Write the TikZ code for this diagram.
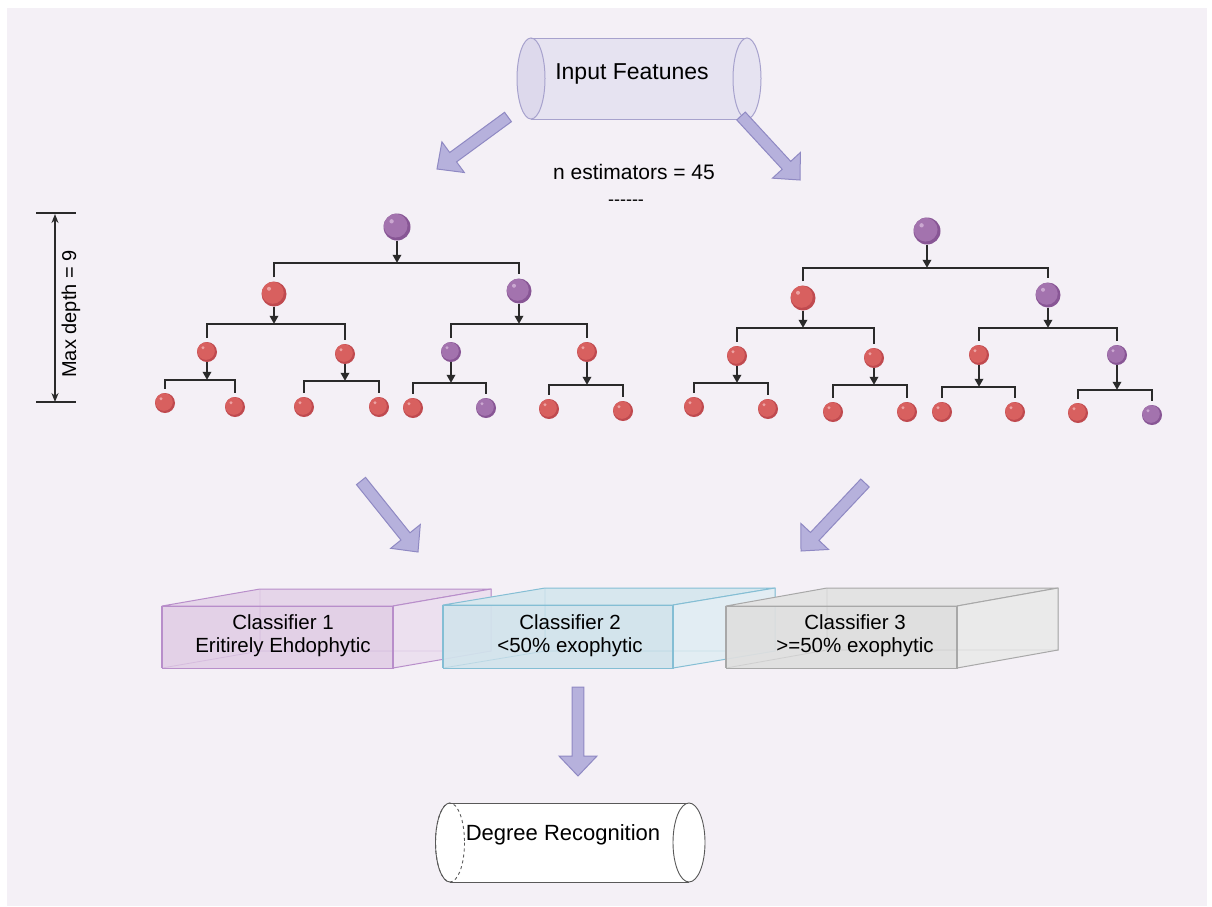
\documentclass[tikz,border=0pt]{standalone}
\usepackage{fontspec}
\setmainfont{Liberation Sans}
\usetikzlibrary{calc,arrows.meta}
\definecolor{bg}{HTML}{F4F0F6}
\definecolor{rdark}{HTML}{C04A4F}
\definecolor{rmain}{HTML}{D8605F}
\definecolor{rlight}{HTML}{EDA3A3}
\definecolor{pdark}{HTML}{885695}
\definecolor{pmain}{HTML}{A373AE}
\definecolor{plight}{HTML}{CBA8D1}
\definecolor{arrfill}{HTML}{B6B1DC}
\definecolor{arrdraw}{HTML}{8F89C3}
\definecolor{cylfill}{HTML}{E6E3F1}
\definecolor{cylcap}{HTML}{DDD9EC}
\definecolor{cyldraw}{HTML}{A7A2CD}
\definecolor{treeline}{HTML}{2A2A2A}
\definecolor{boxAf}{HTML}{E2CFE6}
\definecolor{boxAd}{HTML}{B88ECA}
\definecolor{boxBf}{HTML}{D2E4EC}
\definecolor{boxBd}{HTML}{84BED4}
\definecolor{boxCf}{HTML}{DFDFDF}
\definecolor{boxCd}{HTML}{A8A8A8}
\tikzset{
  ball/.style 2 args={circle, inner sep=0pt, minimum size={2*#1pt}, fill=#2dark,
    path picture={
      \fill[#2main] ($(path picture bounding box.center)+({-0.1*#1},{-0.1*#1})$) circle ({0.88*#1});
      \fill[#2light] ($(path picture bounding box.center)+({-0.4*#1},{-0.42*#1})$) circle ({0.16*#1});
    }},
  rb/.style={ball={#1}{r}},
  pb/.style={ball={#1}{p}},
  tline/.style={draw=treeline, line width=1.8pt},
  fatarr/.style={fill=arrfill, draw=arrdraw, line width=1pt, line join=miter},
  lbl/.style={inner sep=0pt, text=black},
}
\newcommand{\fatarrow}[2]{%
  \coordinate (fab) at ($(#2)!20pt!(#1)$);
  \draw[fatarr] ($(#1)!5.8pt!90:(#2)$) -- ($(fab)!5.8pt!90:(#2)$) -- ($(fab)!19pt!90:(#2)$) -- (#2)
    -- ($(fab)!19pt!-90:(#2)$) -- ($(fab)!5.8pt!-90:(#2)$) -- ($(#1)!5.8pt!-90:(#2)$) -- cycle;}
\newcommand{\branch}[4]{%
  \draw[tline] ($(#2.north)+(0,-4)$) -- ++(0,-#4) coordinate (bar#1) -| ($(#3.north)+(0,-4)$);
  \draw[tline,-{Triangle[length=8pt,width=8.5pt]}] (#1.south) -- (#1.south |- bar#1);}
\newcommand{\cuboid}[8]{% x1 y1 x2 y2 dx dy fill stroke
  \filldraw[fill=#7, fill opacity=.5, draw=#8, draw opacity=.3, line width=.8pt] (#1+#5,#2-#6) rectangle (#3+#5,#4-#6);
  \filldraw[fill=#7!88!white, draw=#8, line width=1pt, line join=round] (#1,#2) -- (#1+#5,#2-#6) -- (#3+#5,#2-#6) -- (#3,#2) -- cycle;
  \filldraw[fill=#7!65!white, draw=#8, line width=1pt, line join=round] (#3,#2) -- (#3+#5,#2-#6) -- (#3+#5,#4-#6) -- (#3,#4) -- cycle;
  \filldraw[fill=#7, fill opacity=.92, draw=#8, line width=1pt] (#1,#2) rectangle (#3,#4);
  \draw[#8, opacity=.3, line width=.8pt] (#1+#5,#2-#6) -- (#1+#5,#4-#6) -- (#3+#5,#4-#6) (#1,#4) -- (#1+#5,#4-#6);
  \draw[#8, line width=2.6pt] (#1,#2) -- (#1,#4);
  \draw[#8, line width=1.8pt] (#3,#2) -- (#3,#4);}
\begin{document}
\begin{tikzpicture}[x=1pt,y=-1pt]
\useasboundingbox (0,0) rectangle (1212,906);
\fill[bg] (7,8) rectangle (1207,906);

% ---------- Input cylinder ----------
\fill[cylfill] (531,38) rectangle (747,119);
\filldraw[fill=cylcap, draw=cyldraw, line width=1pt] (531,78.5) ellipse [x radius=14, y radius=40.5];
\draw[cyldraw, line width=1pt] (531,38) -- (747,38) (531,119) -- (747,119);
\filldraw[fill=cylfill, draw=cyldraw, line width=1pt] (747,78.5) ellipse [x radius=14, y radius=40.5];
\node[lbl, font=\fontsize{23}{27}\selectfont] (inp) at (632,74) {Input Featunes};

% ---------- fat arrows ----------
\coordinate (a1t) at (508,117); \coordinate (a1h) at (437,169);
\coordinate (a2t) at (741,116); \coordinate (a2h) at (800,180);
\coordinate (a3t) at (361,481); \coordinate (a3h) at (418,552);
\coordinate (a4t) at (865,483); \coordinate (a4h) at (801,551);
\coordinate (a5t) at (578,687); \coordinate (a5h) at (578,776);
\fatarrow{a1t}{a1h}
\fatarrow{a2t}{a2h}
\fatarrow{a3t}{a3h}
\fatarrow{a4t}{a4h}
\fatarrow{a5t}{a5h}

\node[lbl, font=\fontsize{21}{25}\selectfont] (nest) at (634,172) {n estimators = 45};
\node[lbl, font=\fontsize{18}{20}\selectfont] (dots) at (626,203) {-{}-{}-{}-{}-{}-};

% ---------- Max depth ----------
\coordinate (mdt) at (55,214);
\coordinate (mdb) at (55,402);
\draw[treeline, line width=1.5pt] (36,213) -- (76,213) (36,402) -- (76,402);
\draw[treeline, line width=1.6pt, {Stealth[length=9pt,width=7pt]}-{Stealth[length=9pt,width=7pt]}] (mdt) -- (mdb);
\node[lbl, rotate=90, font=\fontsize{20}{24}\selectfont] (md) at (71,314) {Max depth = 9};

% ---------- Left tree ----------
\node[pb=13.5] (L0) at (397,227) {};
\node[rb=12.5] (L1a) at (274,294) {};
\node[pb=12.5] (L1b) at (519,291) {};
\node[rb=10] (L2a) at (207,352) {};
\node[rb=10] (L2b) at (345,354) {};
\node[pb=10] (L2c) at (451,352) {};
\node[rb=10] (L2d) at (587,352) {};
\node[rb=10] (L3a) at (165,403) {};
\node[rb=10] (L3b) at (235,407) {};
\node[rb=10] (L3c) at (304,407) {};
\node[rb=10] (L3d) at (379,407) {};
\node[rb=10] (L3e) at (413,408) {};
\node[pb=10] (L3f) at (486,408) {};
\node[rb=10] (L3g) at (549,409) {};
\node[rb=10] (L3h) at (623,411) {};
\branch{L0}{L1a}{L1b}{14.5}
\branch{L1a}{L2a}{L2b}{14}
\branch{L1b}{L2c}{L2d}{14}
\branch{L2a}{L3a}{L3b}{9}
\branch{L2b}{L3c}{L3d}{12}
\branch{L2c}{L3e}{L3f}{11}
\branch{L2d}{L3g}{L3h}{10}

% ---------- Right tree ----------
\node[pb=13.5] (R0) at (927,231) {};
\node[rb=12.5] (R1a) at (803,298) {};
\node[pb=12.5] (R1b) at (1048,295) {};
\node[rb=10] (R2a) at (737,356) {};
\node[rb=10] (R2b) at (874,358) {};
\node[rb=10] (R2c) at (979,355) {};
\node[pb=10] (R2d) at (1117,355) {};
\node[rb=10] (R3a) at (694,407) {};
\node[rb=10] (R3b) at (768,409) {};
\node[rb=10] (R3c) at (833,412) {};
\node[rb=10] (R3d) at (907,412) {};
\node[rb=10] (R3e) at (942,412) {};
\node[rb=10] (R3f) at (1015,412) {};
\node[rb=10] (R3g) at (1078,413) {};
\node[pb=10] (R3h) at (1152,415) {};
\branch{R0}{R1a}{R1b}{13.5}
\branch{R1a}{R2a}{R2b}{14}
\branch{R1b}{R2c}{R2d}{13}
\branch{R2a}{R3a}{R3b}{10}
\branch{R2b}{R3c}{R3d}{13}
\branch{R2c}{R3e}{R3f}{11}
\branch{R2d}{R3g}{R3h}{9}

% ---------- Classifier boxes ----------
\cuboid{162}{606}{393}{668}{98}{17}{boxAf}{boxAd}
\cuboid{443}{605}{673}{668}{102}{17}{boxBf}{boxBd}
\cuboid{726}{606}{957}{668}{101}{18}{boxCf}{boxCd}
\node[lbl, align=center, font=\fontsize{20.5}{23}\selectfont] (c1) at (283,636) {Classifier 1\\Eritirely Ehdophytic};
\node[lbl, align=center, font=\fontsize{20.5}{23}\selectfont] (c2) at (570,636) {Classifier 2\\<50\% exophytic};
\node[lbl, align=center, font=\fontsize{20.5}{23}\selectfont] (c3) at (855,636) {Classifier 3\\>=50\% exophytic};

% ---------- Degree Recognition cylinder ----------
\fill[white] (450,803) rectangle (689,882);
\filldraw[fill=white, draw=black!65, line width=.9pt, dashed] (450,842.5) ellipse [x radius=14.5, y radius=39.5];
\draw[black!65, line width=.9pt] (450,882) arc[start angle=90, end angle=270, x radius=14.5, y radius=39.5];
\draw[black!65, line width=.9pt] (450,803) -- (689,803) (450,882) -- (689,882);
\filldraw[fill=white, draw=black!65, line width=.9pt] (689,842.5) ellipse [x radius=16, y radius=39.5];
\node[lbl, font=\fontsize{22}{26}\selectfont] (deg) at (563,835) {Degree Recognition};
\end{tikzpicture}
\end{document}
